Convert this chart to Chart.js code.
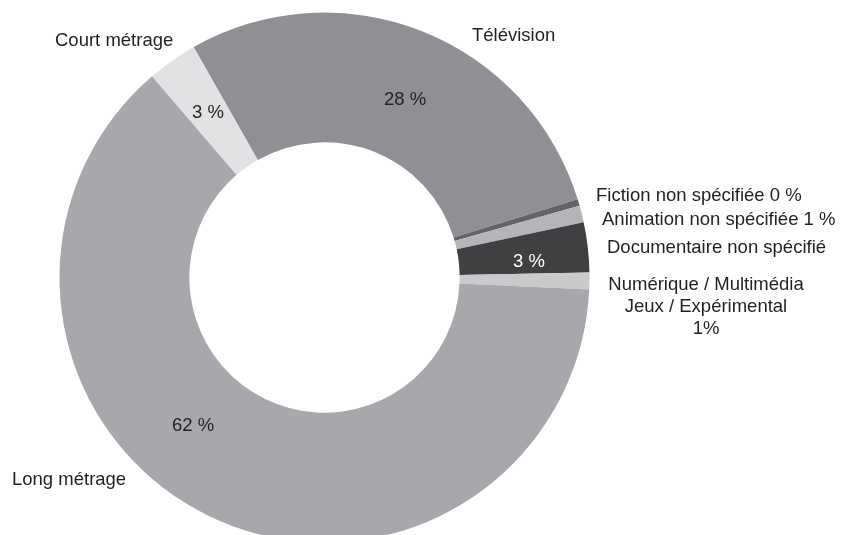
<!DOCTYPE html>
<html lang="fr">

<head>
    <meta charset="UTF-8">
    <meta name="viewport" content="width=device-width, initial-scale=1.0">
    <title>Répartition par type de production</title>

    <script src="https://cdn.jsdelivr.net/npm/chart.js"></script>

    <style>
        html, body {
            margin: 0;
            padding: 0;
            background: #ffffff;
            overflow: hidden;
        }

        .grafico {
            width: 844px;
            height: 535px;
            overflow: hidden;
        }
    </style>
</head>

<body>

    <div class="grafico">
        <canvas id="anneau" width="844" height="555"></canvas>
    </div>

</body>

<script>

    // catégories dans l'ordre du tracé (sens horaire, à partir de Télévision)
    const categories = [
        'Télévision',
        'Fiction non spécifiée',
        'Animation non spécifiée',
        'Documentaire non spécifié',
        'Numérique / Multimédia / Jeux / Expérimental',
        'Long métrage',
        'Court métrage'
    ];

    // parts en %
    const pourcentages = [28, 0.4, 1, 3, 1, 62, 3];

    const couleurs = ['#8f9094', '#636467', '#b4b5b8', '#404043', '#c9cacc', '#a7a8ab', '#e1e2e4'];

    const POLICE = '18.5px "Liberation Sans", Arial, sans-serif';
    const TEXTE = '#231f20';

    function pct(i, espace) {
        return Math.round(pourcentages[i]) + (espace ? ' %' : '%');
    }

    // étiquettes : lignes de texte, position de la ligne de base, alignement
    const etiquettes = [
        { lignes: () => [categories[0]], x: 472, y: 41, align: 'left' },
        { lignes: () => [pct(0, true)], x: 405, y: 105, align: 'center' },
        { lignes: () => [categories[6]], x: 55, y: 46, align: 'left' },
        { lignes: () => [pct(6, true)], x: 208, y: 118, align: 'center' },
        { lignes: () => [categories[1] + ' ' + pct(1, true)], x: 596, y: 201, align: 'left' },
        { lignes: () => [categories[2] + ' ' + pct(2, true)], x: 602, y: 225, align: 'left' },
        { lignes: () => [categories[3]], x: 607, y: 253, align: 'left' },
        { lignes: () => [pct(3, true)], x: 529, y: 267, align: 'center', couleur: '#ffffff' },
        { lignes: () => ['Numérique / Multimédia', 'Jeux / Expérimental', pct(4, false)], x: 706, y: 290, align: 'center' },
        { lignes: () => [categories[5]], x: 12, y: 485, align: 'left' },
        { lignes: () => [pct(5, true)], x: 193, y: 431, align: 'center' }
    ];

    const pluginEtiquettes = {
        id: 'etiquettes',
        afterDatasetsDraw(chart) {
            const ctx = chart.ctx;
            ctx.save();
            ctx.font = POLICE;
            ctx.textBaseline = 'alphabetic';
            etiquettes.forEach(e => {
                ctx.fillStyle = e.couleur || TEXTE;
                ctx.textAlign = e.align;
                e.lignes().forEach((l, k) => {
                    ctx.fillText(l, e.x, e.y + k * 22);
                });
            });
            ctx.restore();
        }
    };

    const ctx = document.getElementById('anneau').getContext('2d');
    const myChart = new Chart(ctx, {
        type: 'doughnut',
        data: {
            labels: categories,
            datasets: [{
                data: pourcentages,
                backgroundColor: couleurs,
                borderWidth: 0,
                hoverOffset: 0
            }]
        },
        options: {
            responsive: false,
            animation: false,
            rotation: -29.6,
            cutout: '51%',
            layout: {
                padding: {
                    top: 12.5,
                    bottom: 12.5,
                    left: 59.5,
                    right: 254.5
                }
            },
            plugins: {
                legend: {
                    display: false
                },
                tooltip: {
                    enabled: false
                }
            }
        },
        plugins: [pluginEtiquettes]
    });

</script>

</html>
